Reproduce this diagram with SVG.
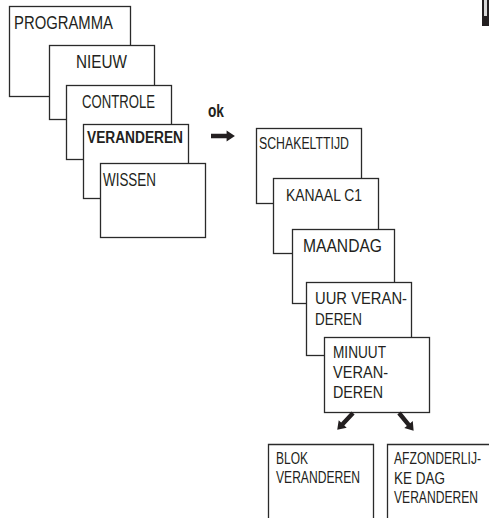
<svg xmlns="http://www.w3.org/2000/svg" width="489" height="518" viewBox="0 0 489 518">
<style>
.box{fill:#fff;stroke:#2a2a2a;stroke-width:1.3}
.edge{fill:none;stroke:#2a2a2a;stroke-width:1.3}
text{font-family:"Liberation Sans",Arial,sans-serif;fill:#231f20;font-size:17px}
.b{font-weight:bold}
.arr{fill:#231f20}
</style>
<defs>
<path id="arrow" d="M0,-2.2 L15,-2.2 L15,-5.5 L23,0 L15,5.5 L15,2.2 L0,2.2 Z"/>
</defs>
<rect x="0" y="0" width="489" height="518" fill="#fff"/>
<path d="M482,0 H489 V26 H482 Z" fill="#231f20"/>
<rect x="484" y="0" width="3" height="16" fill="#d8d8d8"/>

<g id="programma"><rect class="box" x="9.5" y="6.5" width="121" height="90"/><text x="14" y="29" style="font-size:19px" textLength="99" lengthAdjust="spacingAndGlyphs">PROGRAMMA</text></g>
<g id="nieuw"><rect class="box" x="49.5" y="45.5" width="105" height="74"/><text x="76" y="68" style="font-size:17.5px" textLength="51" lengthAdjust="spacingAndGlyphs">NIEUW</text></g>
<g id="controle"><rect class="box" x="66.5" y="85.5" width="105" height="74"/><text x="82" y="108" style="font-size:17.5px" textLength="73" lengthAdjust="spacingAndGlyphs">CONTROLE</text></g>
<g id="veranderen"><rect class="box" x="83.5" y="124.5" width="105" height="74"/><text class="b" x="87" y="143" style="font-size:16px" textLength="96" lengthAdjust="spacingAndGlyphs">VERANDEREN</text></g>
<g id="wissen"><rect class="box" x="100.5" y="163.5" width="105" height="74"/><text x="103" y="186" style="font-size:17.5px" textLength="53" lengthAdjust="spacingAndGlyphs">WISSEN</text></g>

<g id="schakeltijd"><rect class="box" x="256.5" y="128.5" width="105" height="75"/><text x="259" y="149" style="font-size:16px" textLength="90" lengthAdjust="spacingAndGlyphs">SCHAKELTTIJD</text></g>
<g id="kanaal"><rect class="box" x="273.5" y="178.5" width="105" height="75"/><text x="286" y="201" style="font-size:17px" textLength="76" lengthAdjust="spacingAndGlyphs">KANAAL C1</text></g>
<g id="maandag"><rect class="box" x="292.5" y="229.5" width="102" height="74"/><text x="303" y="252" style="font-size:18px" textLength="79" lengthAdjust="spacingAndGlyphs">MAANDAG</text></g>
<g id="uur"><rect class="box" x="306.5" y="282.5" width="105" height="73"/><text x="315" y="304" textLength="92" lengthAdjust="spacingAndGlyphs">UUR VERAN-</text><text x="315" y="325" textLength="47" lengthAdjust="spacingAndGlyphs">DEREN</text></g>
<g id="minuut"><rect class="box" x="324.5" y="337.5" width="105" height="75"/><text x="333" y="358" textLength="53" lengthAdjust="spacingAndGlyphs">MINUUT</text><text x="333" y="378" textLength="55" lengthAdjust="spacingAndGlyphs">VERAN-</text><text x="333" y="398" textLength="50" lengthAdjust="spacingAndGlyphs">DEREN</text></g>

<g id="blok"><path class="edge" d="M268.5,518 V444.5 H373.5 V518"/><text x="276" y="464" style="font-size:16.5px" textLength="32" lengthAdjust="spacingAndGlyphs">BLOK</text><text x="276" y="483" style="font-size:16.5px" textLength="84" lengthAdjust="spacingAndGlyphs">VERANDEREN</text></g>
<g id="afzonderlijk"><path class="edge" d="M387.5,518 V444.5 H489"/><text x="394" y="464" style="font-size:16.5px" textLength="87" lengthAdjust="spacingAndGlyphs">AFZONDERLIJ-</text><text x="394" y="484" style="font-size:16.5px" textLength="51" lengthAdjust="spacingAndGlyphs">KE DAG</text><text x="394" y="503" style="font-size:16.5px" textLength="84" lengthAdjust="spacingAndGlyphs">VERANDEREN</text></g>

<g id="connectors">
<text class="b" x="208" y="117" style="font-size:18px" textLength="16" lengthAdjust="spacingAndGlyphs">ok</text>
<use href="#arrow" class="arr" transform="translate(211,136) scale(1.04,1)"/>
<use href="#arrow" class="arr" transform="translate(353,413) rotate(133.3)"/>
<use href="#arrow" class="arr" transform="translate(399,413) rotate(50.5)"/>
</g>
</svg>
